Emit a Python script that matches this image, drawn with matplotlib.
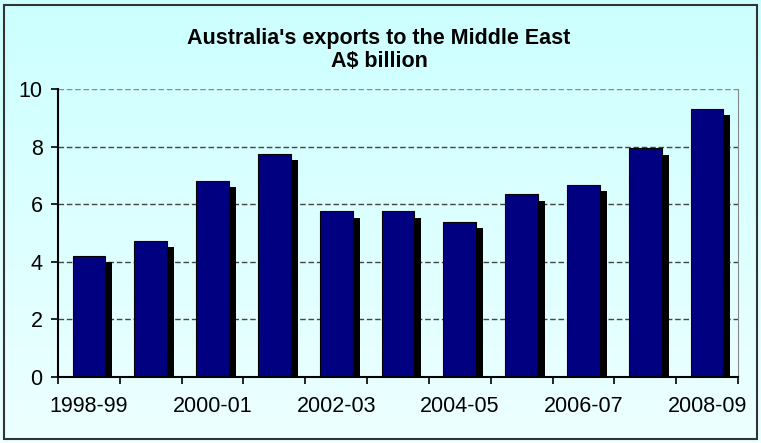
import numpy as np
import matplotlib.pyplot as plt
import matplotlib.patheffects as pe
from matplotlib.patches import Rectangle

plt.rcParams['font.family'] = ['Liberation Sans', 'DejaVu Sans']

# Australia's exports to the Middle East, A$ billion
years = ['1998-99', '1999-00', '2000-01', '2001-02', '2002-03', '2003-04',
         '2004-05', '2005-06', '2006-07', '2007-08', '2008-09']
exports = [4.21, 4.73, 6.81, 7.75, 5.75, 5.75, 5.38, 6.34, 6.66, 7.94, 9.32]
yticks = [0, 2, 4, 6, 8, 10]

W, H = 761, 443
fig = plt.figure(figsize=(W / 100, H / 100), dpi=100)

# background gradient
bg = fig.add_axes([0, 0, 1, 1], zorder=-10)
grad = np.linspace(0, 1, 256).reshape(-1, 1)
top = np.array([0.80, 1.0, 1.0])
bot = np.array([0.93, 1.0, 1.0])
img = top + (bot - top) * grad[:, :, None] * np.ones((1, 1, 3))
bg.imshow(img, aspect='auto', extent=[0, 1, 0, 1])
bg.set_axis_off()
fig.patches.append(Rectangle((4 / W, 4 / H), 1 - 8 / W, 1 - 9 / H,
                             transform=fig.transFigure, fill=False,
                             edgecolor='#333333', linewidth=1.5))

ax = fig.add_axes([58 / W, 1 - 377 / H, 680 / W, 288 / H])
ax.patch.set_alpha(0)
x = np.arange(len(years))
bars = ax.bar(x, exports, width=0.53, color='#000080', edgecolor='black',
              linewidth=0.8, zorder=3)
for b in bars:
    b.set_path_effects([pe.SimplePatchShadow(offset=(5, -4.5),
                                             shadow_rgbFace='black', alpha=1.0),
                        pe.Normal()])

ax.set_xlim(-0.5, len(years) - 0.5)
ax.set_ylim(0, 10)
ax.set_yticks(yticks)
ax.set_yticklabels([str(v) for v in yticks], fontsize=15.5)
for v in yticks[1:]:
    ax.axhline(v, color='#444444' if v < 10 else '#888888',
               linestyle=(0, (4, 2)), linewidth=1, zorder=1)

ax.set_xticks(np.arange(len(years) + 1) - 0.5)
ax.set_xticklabels([])
ax.set_xticks(x[::2], minor=True)
ax.set_xticklabels(years[::2], minor=True, fontsize=15.5)
ax.tick_params(axis='x', which='minor', length=0, pad=14)
ax.tick_params(axis='x', which='major', length=5, width=1.2, direction='out')
ax.tick_params(axis='y', length=5, width=1.2, direction='out', pad=6)

ax.spines['left'].set_linewidth(1.5)
ax.spines['bottom'].set_linewidth(1.5)
ax.spines['bottom'].set_zorder(5)
ax.spines['top'].set_visible(False)
ax.spines['right'].set_color('#888888')

fig.text(379 / W, 1 - 50 / H,
         "Australia's exports to the Middle East\nA$ billion",
         ha='center', va='center', fontsize=15.5, fontweight='bold',
         linespacing=1.1)

fig.savefig('out.png', dpi=100)
